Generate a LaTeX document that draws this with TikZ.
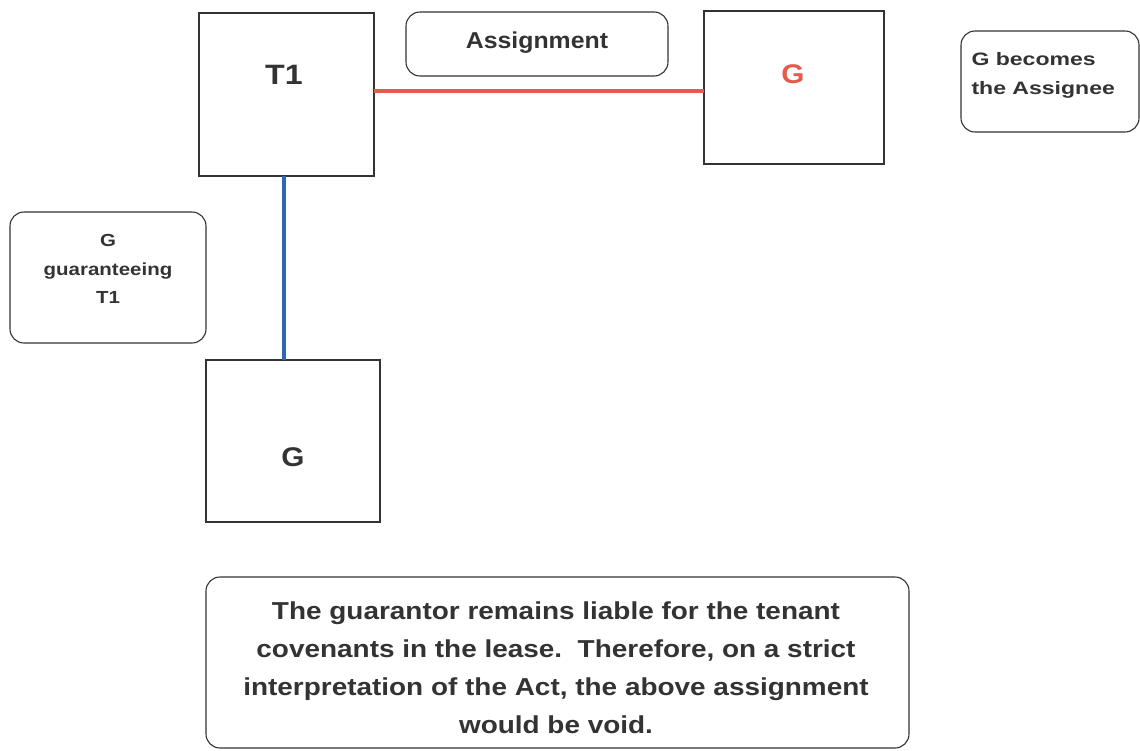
\documentclass[tikz,border=0pt]{standalone}
\usepackage{fontspec}
\setmainfont{Liberation Sans}
\begin{document}
\begin{tikzpicture}[x=1pt,y=-1pt,
  party/.style={draw=black!80,line width=1.1pt,fill=white},
  note/.style={draw=black!80,line width=1.1pt,rounded corners=14pt,fill=white},
  lbl/.style={font=\bfseries,text=black!80,align=center},
  wide/.style={xscale=#1,transform shape},
  link/.style={line width=3.5pt}]
\useasboundingbox (0,0) rectangle (1140,750);
\definecolor{assignred}{HTML}{E65A4C}
\definecolor{guarblue}{HTML}{2C68B4}
% parties
\draw[party] (199,13) rectangle (374,176);
\node (t1) at (286.5,94.5) [minimum width=175pt,minimum height=163pt,inner sep=0pt] {};
\node[lbl,wide=1.15,font=\bfseries\fontsize{28}{30}\selectfont] at (284,75) {T1};
\draw[party] (704,11) rectangle (884,164);
\node (ga) at (794,87.5) [minimum width=180pt,minimum height=153pt,inner sep=0pt] {};
\node[lbl,wide=1.1,text=assignred,font=\bfseries\fontsize{27}{30}\selectfont] at (793,74) {G};
\draw[party] (206,360) rectangle (380,522);
\node (gb) at (293,441) [minimum width=174pt,minimum height=162pt,inner sep=0pt] {};
\node[lbl,wide=1.1,font=\bfseries\fontsize{27}{30}\selectfont] at (293,457) {G};
% connectors
\coordinate (t1r) at (374,91);
\coordinate (gal) at (704,91);
\coordinate (t1b) at (284,176);
\coordinate (gbt) at (284,360);
\draw[link,assignred] (t1r) -- (gal);
\draw[link,guarblue] (t1b) -- (gbt);
% notes
\draw[note] (406,12) rectangle (668,76);
\node (asg) [lbl,wide=1.08,font=\bfseries\fontsize{23}{26}\selectfont] at (537,43) {Assignment};
\draw[note] (961,31) rectangle (1139,132);
\node (becomes) [lbl,wide=1.28,align=left,anchor=west,font=\bfseries\fontsize{18}{29}\selectfont] at (967,75) {G becomes\\the Assignee};
\draw[note] (10,212) rectangle (206,343);
\node (guar) [lbl,wide=1.17,font=\bfseries\fontsize{17.5}{28.5}\selectfont] at (108,269) {G\\guaranteeing\\T1};
\draw[note] (206,577) rectangle (909,748);
\node (void) [lbl,wide=1.14,font=\bfseries\fontsize{24.5}{38}\selectfont] at (556,668) {The guarantor remains liable for the tenant\\covenants in the lease.\ \ Therefore, on a strict\\interpretation of the Act, the above assignment\\would be void.};
\end{tikzpicture}
\end{document}
